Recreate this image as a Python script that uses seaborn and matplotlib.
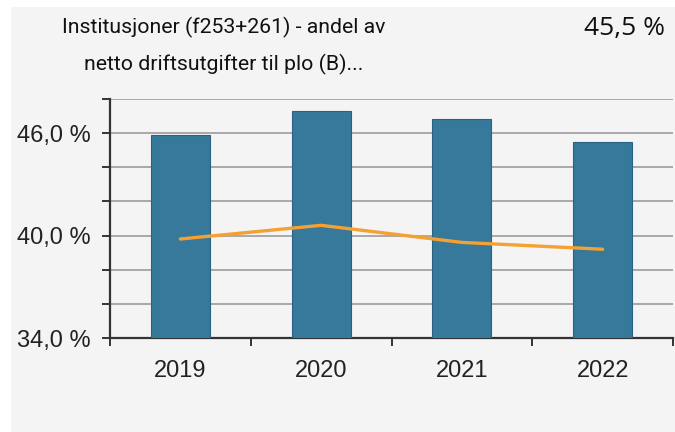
import matplotlib
matplotlib.use("Agg")
import matplotlib.pyplot as plt
from matplotlib.patches import Rectangle
import seaborn as sns
import pandas as pd

# values
years = ["2019", "2020", "2021", "2022"]
bar_values = [45.9, 47.3, 46.85, 45.5]
line_values = [39.8, 40.6, 39.6, 39.2]
title_lines = ["Institusjoner (f253+261) - andel av", "netto driftsutgifter til plo (B)..."]
latest_label = "45,5 %"
y_ticks = [34, 36, 38, 40, 42, 44, 46, 48]
y_labeled = [34, 40, 46]

df = pd.DataFrame({"year": years, "bar": bar_values, "line": line_values})

sns.set_theme(style="white")
plt.rcParams["font.family"] = ["Liberation Sans", "DejaVu Sans"]

fig = plt.figure(figsize=(6.75, 4.32), dpi=100)
fig.patch.set_facecolor("white")
# grey card behind the chart
fig.patches.append(Rectangle((11 / 675, 0.0), 1.0, 1 - 7 / 432, transform=fig.transFigure,
                             facecolor="#f4f4f4", edgecolor="none", zorder=-1))

ax = fig.add_axes([110 / 675, 1 - 338 / 432, (673 - 110) / 675, (338 - 99) / 432])
ax.set_facecolor("#f4f4f4")

sns.barplot(data=df, x="year", y="bar", color="#36799a", saturation=1, width=0.42,
            edgecolor="#2a6381", linewidth=0.8, ax=ax, zorder=3)
sns.pointplot(data=df, x="year", y="line", color="#f5a033", markers="", linestyles="-",
              linewidth=2.4, ax=ax, zorder=4)

ax.set_ylim(34, 48)
ax.set_xlim(-0.5, 3.5)
ax.set_yticks(y_ticks)
ax.set_yticklabels([f"{t},0 %" if t in y_labeled else "" for t in y_ticks])
ax.set_xticks([-0.5, 0.5, 1.5, 2.5, 3.5], minor=True)
ax.tick_params(axis="x", which="major", bottom=True, length=0, pad=16, labelsize=17,
               labelcolor="#222222")
ax.tick_params(axis="x", which="minor", bottom=True, length=6, width=1.4, color="#333333",
               direction="out")
ax.tick_params(axis="y", left=True, length=6, width=1.4, color="#333333", direction="out",
               pad=8, labelsize=17, labelcolor="#222222")
ax.grid(axis="y", color="#a8a8a8", linewidth=1.4, zorder=0)
ax.set_axisbelow(True)
ax.set_xlabel("")
ax.set_ylabel("")
for side in ["top", "right"]:
    ax.spines[side].set_visible(False)
for side in ["left", "bottom"]:
    ax.spines[side].set_color("#333333")
    ax.spines[side].set_linewidth(1.6)

for i, line in enumerate(title_lines):
    fig.text(224 / 675, 1 - (27 + 37 * i) / 432, line, ha="center", va="center",
             fontsize=15.3, color="#111111", family=["Roboto", "DejaVu Sans"])
fig.text(665 / 675, 1 - 29 / 432, latest_label, ha="right", va="center",
         fontsize=19, color="#111111", family=["Open Sans", "DejaVu Sans"])

fig.savefig("out.png", dpi=100, facecolor=fig.get_facecolor())
